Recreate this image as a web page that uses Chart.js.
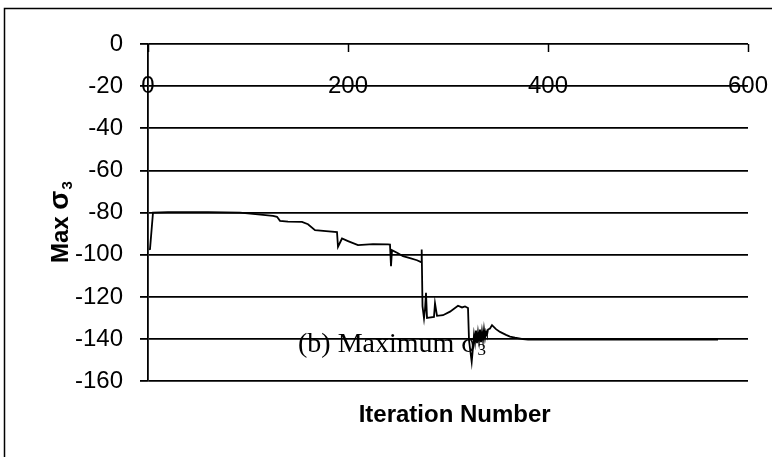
<!DOCTYPE html>
<html>
<head>
<meta charset="utf-8">
<script src="https://cdn.jsdelivr.net/npm/chart.js@4/dist/chart.umd.min.js"></script>
<style>
    html, body { margin: 0; padding: 0; background: #fff; }
    #chart-wrap { width: 772px; height: 457px; }
</style>
</head>
<body>
<div id="chart-wrap"><canvas id="sigma-chart" width="772" height="457"></canvas></div>
<script>
// ==============================================
// Max sigma3 vs iteration number
// ==============================================

const iterations = [
    1, 2, 5, 20, 60, 92, 110, 125, 129, 132, 140, 154, 160, 167, 178, 189,
    190, 194, 200, 210, 225, 240, 242, 243, 244, 250, 255, 262, 269, 273,
    273.7, 274.5, 276, 277, 278, 279, 281, 286, 287, 289, 295, 302, 310, 314,
    317, 320, 321, 323.7, 325, 326, 327, 328, 329, 330, 331, 332, 333, 334,
    335, 336, 337, 338, 339, 340, 342, 344, 348, 352, 358, 362, 367, 375, 380, 570
];
const maxSigma3 = [
    -97.5, -97.3, -80, -79.8, -79.8, -80, -80.8, -81.6, -82, -83.9, -84.3, -84.4, -85.5, -88.3, -88.8, -89.2,
    -96.2, -92.3, -93.5, -95.4, -95, -95.1, -95.2, -105.4, -97.8, -99.3, -100.7, -101.6, -102.6, -103.5,
    -97.5, -124.4, -130.2, -126, -118, -130, -129.8, -129.5, -123, -129, -128.7, -127, -124.2, -125,
    -124.5, -125.3, -140.5, -150.8, -144, -138, -141.5, -136, -142, -137, -141, -135.5, -141.5, -136.5,
    -140.5, -135.5, -139.5, -136.5, -138, -135.5, -135, -133.4, -135.3, -136.6, -138, -138.8, -139.3, -140, -140.3, -140.3
];
const xTickValues = [0, 200, 400, 600];
const yTickValues = [0, -20, -40, -60, -80, -100, -120, -140, -160];

const SANS = "'Liberation Sans', Arial, sans-serif";
const SERIF = "'Liberation Serif', 'Times New Roman', serif";

/**
 * Marco exterior, marcas del eje superior, título Y y la anotación (b)
 */
const decorPlugin = {
    id: 'decor',
    beforeDraw: function(chart) {
        const ctx = chart.ctx;
        ctx.save();
        ctx.strokeStyle = '#000';
        ctx.lineWidth = 1.5;
        ctx.strokeRect(4.5, 8.5, 900, 600);
        ctx.restore();
    },
    beforeDatasetsDraw: function(chart) {
        const ctx = chart.ctx;
        const xs = chart.scales.x;
        const ys = chart.scales.y;
        ctx.save();
        // marcas de las divisiones en el eje de arriba
        ctx.strokeStyle = '#000';
        ctx.lineWidth = 1.5;
        const top = Math.round(ys.getPixelForValue(0));
        xTickValues.forEach(v => {
            const px = Math.round(xs.getPixelForValue(v)) + 0.5;
            ctx.beginPath();
            ctx.moveTo(px, top);
            ctx.lineTo(px, top + 8);
            ctx.stroke();
        });

        // título del eje Y (con subíndice)
        ctx.fillStyle = '#000';
        ctx.textBaseline = 'alphabetic';
        ctx.textAlign = 'left';
        ctx.save();
        ctx.translate(68, 263);
        ctx.rotate(-Math.PI / 2);
        ctx.font = 'bold 24px ' + SANS;
        ctx.fillText('Max ', 0, 0);
        let off = ctx.measureText('Max ').width;
        ctx.font = 'bold 28px ' + SANS;
        ctx.fillText('σ', off, 0);
        off += ctx.measureText('σ').width;
        ctx.font = 'bold 15px ' + SANS;
        ctx.fillText('3', off + 1, 4);
        ctx.restore();

        // anotación
        ctx.font = '28px ' + SERIF;
        const tx = xs.getPixelForValue(150);
        const ty = ys.getPixelForValue(-146.2);
        const label = '(b) Maximum σ';
        ctx.fillText(label, tx, ty);
        const w = ctx.measureText(label).width;
        ctx.font = '17px ' + SERIF;
        ctx.fillText('3', tx + w + 1, ty + 3);
        ctx.restore();
    }
};

const ctx = document.getElementById('sigma-chart').getContext('2d');

new Chart(ctx, {
    type: 'line',
    data: {
        datasets: [{
            label: 'Max σ3',
            data: iterations.map((x, i) => ({ x: x, y: maxSigma3[i] })),
            borderColor: '#000',
            borderWidth: 1.8,
            pointRadius: 0,
            tension: 0,
            fill: false
        }]
    },
    options: {
        responsive: false,
        animation: false,
        devicePixelRatio: 1,
        layout: {
            padding: { left: 0, top: 44, right: 24, bottom: 0 }
        },
        plugins: {
            legend: { display: false },
            tooltip: { enabled: false },
            title: {
                display: true,
                position: 'bottom',
                fullSize: false,
                text: '  Iteration Number',
                color: '#000',
                font: { family: SANS, size: 24, weight: 'bold' },
                padding: { top: 20, bottom: 27 }
            }
        },
        scales: {
            x: {
                type: 'linear',
                min: 0,
                max: 600,
                position: { y: -20 },
                afterBuildTicks: function(scale) {
                    scale.ticks = xTickValues.map(v => ({ value: v }));
                },
                ticks: {
                    color: '#000',
                    padding: -14,
                    maxRotation: 0,
                    font: { family: SANS, size: 24 }
                },
                grid: { display: false, drawTicks: false },
                border: { display: false }
            },
            y: {
                min: -160,
                max: 0,
                afterBuildTicks: function(scale) {
                    scale.ticks = yTickValues.map(v => ({ value: v }));
                },
                afterFit: function(scale) {
                    scale.width = 148;
                },
                ticks: {
                    color: '#000',
                    padding: 17,
                    font: { family: SANS, size: 24 }
                },
                grid: {
                    color: '#000',
                    lineWidth: 1.8,
                    tickLength: 8,
                    drawTicks: true
                },
                border: { display: true, color: '#000', width: 1.8 },
                title: { display: false }
            }
        }
    },
    plugins: [decorPlugin]
});
</script>
</body>
</html>
